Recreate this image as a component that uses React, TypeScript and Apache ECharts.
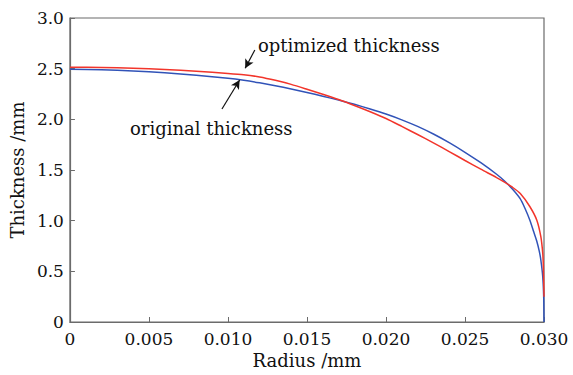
import React, { useEffect, useRef } from "react";
import * as echarts from "echarts";

const radiusOriginal = [0, 0.002, 0.004, 0.006, 0.008, 0.010, 0.011, 0.012, 0.013, 0.014, 0.015, 0.016, 0.017, 0.018, 0.019, 0.020, 0.021, 0.022, 0.023, 0.024, 0.025, 0.026, 0.027, 0.0275, 0.028, 0.0285, 0.0288, 0.0291, 0.02935, 0.02954, 0.0297, 0.0298, 0.02992, 0.02998, 0.0300];
const thicknessOriginal = [2.495, 2.49, 2.478, 2.46, 2.435, 2.405, 2.385, 2.36, 2.332, 2.30, 2.265, 2.228, 2.19, 2.148, 2.102, 2.052, 1.995, 1.93, 1.855, 1.77, 1.675, 1.572, 1.458, 1.392, 1.312, 1.215, 1.12, 1.007, 0.89, 0.80, 0.70, 0.612, 0.447, 0.25, 0];

const radiusOptimized = [0, 0.002, 0.004, 0.006, 0.008, 0.010, 0.011, 0.012, 0.013, 0.014, 0.015, 0.016, 0.017, 0.018, 0.019, 0.020, 0.021, 0.022, 0.023, 0.024, 0.025, 0.026, 0.027, 0.0275, 0.028, 0.0285, 0.0291, 0.02954, 0.0298, 0.02992, 0.02996, 0.0300];
const thicknessOptimized = [2.515, 2.512, 2.505, 2.492, 2.474, 2.453, 2.44, 2.418, 2.385, 2.345, 2.297, 2.247, 2.195, 2.137, 2.075, 2.008, 1.93, 1.85, 1.768, 1.682, 1.594, 1.508, 1.425, 1.38, 1.33, 1.268, 1.14, 1.007, 0.842, 0.678, 0.546, 0.25];

const xTicks = [0, 0.03, 0.005];
const yTicks = [0, 3, 0.5];

const labelOptimized = "optimized thickness";
const labelOriginal = "original thickness";
const arrowOptimized = [[0.0117, 2.684], [0.01109, 2.504]];
const arrowOriginal = [[0.00962, 2.102], [0.01074, 2.388]];

const FONT = "'DejaVu Serif', serif";

export default function App() {
  const ref = useRef<HTMLDivElement>(null);
  useEffect(() => {
    if (!ref.current) return;
    const chart = echarts.init(ref.current, undefined, { renderer: "svg" });
    const axisColor = "#6b6b6b";
    const arrowLine = (pts: number[][]) => ({
      silent: true,
      symbol: ["none", "arrow"],
      symbolSize: [7, 9],
      label: { show: false },
      lineStyle: { color: "#111", width: 1.2, type: "solid" },
      data: [[{ coord: pts[0] }, { coord: pts[1] }]],
    });
    chart.setOption({
      animation: false,
      backgroundColor: "#fff",
      grid: {
        left: 67, top: 18, right: 29, bottom: 53,
        show: true, borderColor: axisColor, borderWidth: 1.2,
      },
      xAxis: {
        type: "value",
        min: xTicks[0], max: xTicks[1], interval: xTicks[2],
        name: "Radius /mm",
        nameLocation: "middle",
        nameGap: 29,
        nameTextStyle: { fontFamily: FONT, fontSize: 18, color: "#111" },
        axisLine: { lineStyle: { color: axisColor, width: 1.2 } },
        axisTick: { inside: true, length: 5, lineStyle: { color: axisColor } },
        splitLine: { show: false },
        axisLabel: {
          fontFamily: FONT, fontSize: 17, color: "#111", margin: 8,
          formatter: (v: number) => (v === 0 ? "0" : v.toFixed(3)),
        },
      },
      yAxis: {
        type: "value",
        min: yTicks[0], max: yTicks[1], interval: yTicks[2],
        name: "Thickness /mm",
        nameLocation: "middle",
        nameGap: 42,
        nameTextStyle: { fontFamily: FONT, fontSize: 18, color: "#111" },
        axisLine: { lineStyle: { color: axisColor, width: 1.2 } },
        axisTick: { inside: true, length: 5, lineStyle: { color: axisColor } },
        splitLine: { show: false },
        axisLabel: {
          fontFamily: FONT, fontSize: 17, color: "#111", margin: 6,
          formatter: (v: number) => (v === 0 ? "0" : v.toFixed(1)),
        },
      },
      series: [
        {
          name: "original thickness",
          type: "line",
          data: radiusOriginal.map((r, i) => [r, thicknessOriginal[i]]),
          showSymbol: false,
          smooth: 0.25,
          lineStyle: { color: "#3153b8", width: 1.5 },
          z: 2,
          markLine: arrowLine(arrowOriginal),
        },
        {
          name: "optimized thickness",
          type: "line",
          data: radiusOptimized.map((r, i) => [r, thicknessOptimized[i]]),
          showSymbol: false,
          smooth: 0.25,
          lineStyle: { color: "#f2352b", width: 1.5 },
          z: 3,
          markLine: arrowLine(arrowOptimized),
        },
      ],
      graphic: [
        {
          type: "text", left: 258, top: 36,
          style: { text: labelOptimized, font: `18px ${FONT}`, fill: "#111" },
        },
        {
          type: "text", left: 130, top: 119,
          style: { text: labelOriginal, font: `18px ${FONT}`, fill: "#111" },
        },
      ],
    });
    return () => chart.dispose();
  }, []);
  return <div ref={ref} style={{ width: 573, height: 375, position: "absolute", left: 0, top: 0 }} />;
}
